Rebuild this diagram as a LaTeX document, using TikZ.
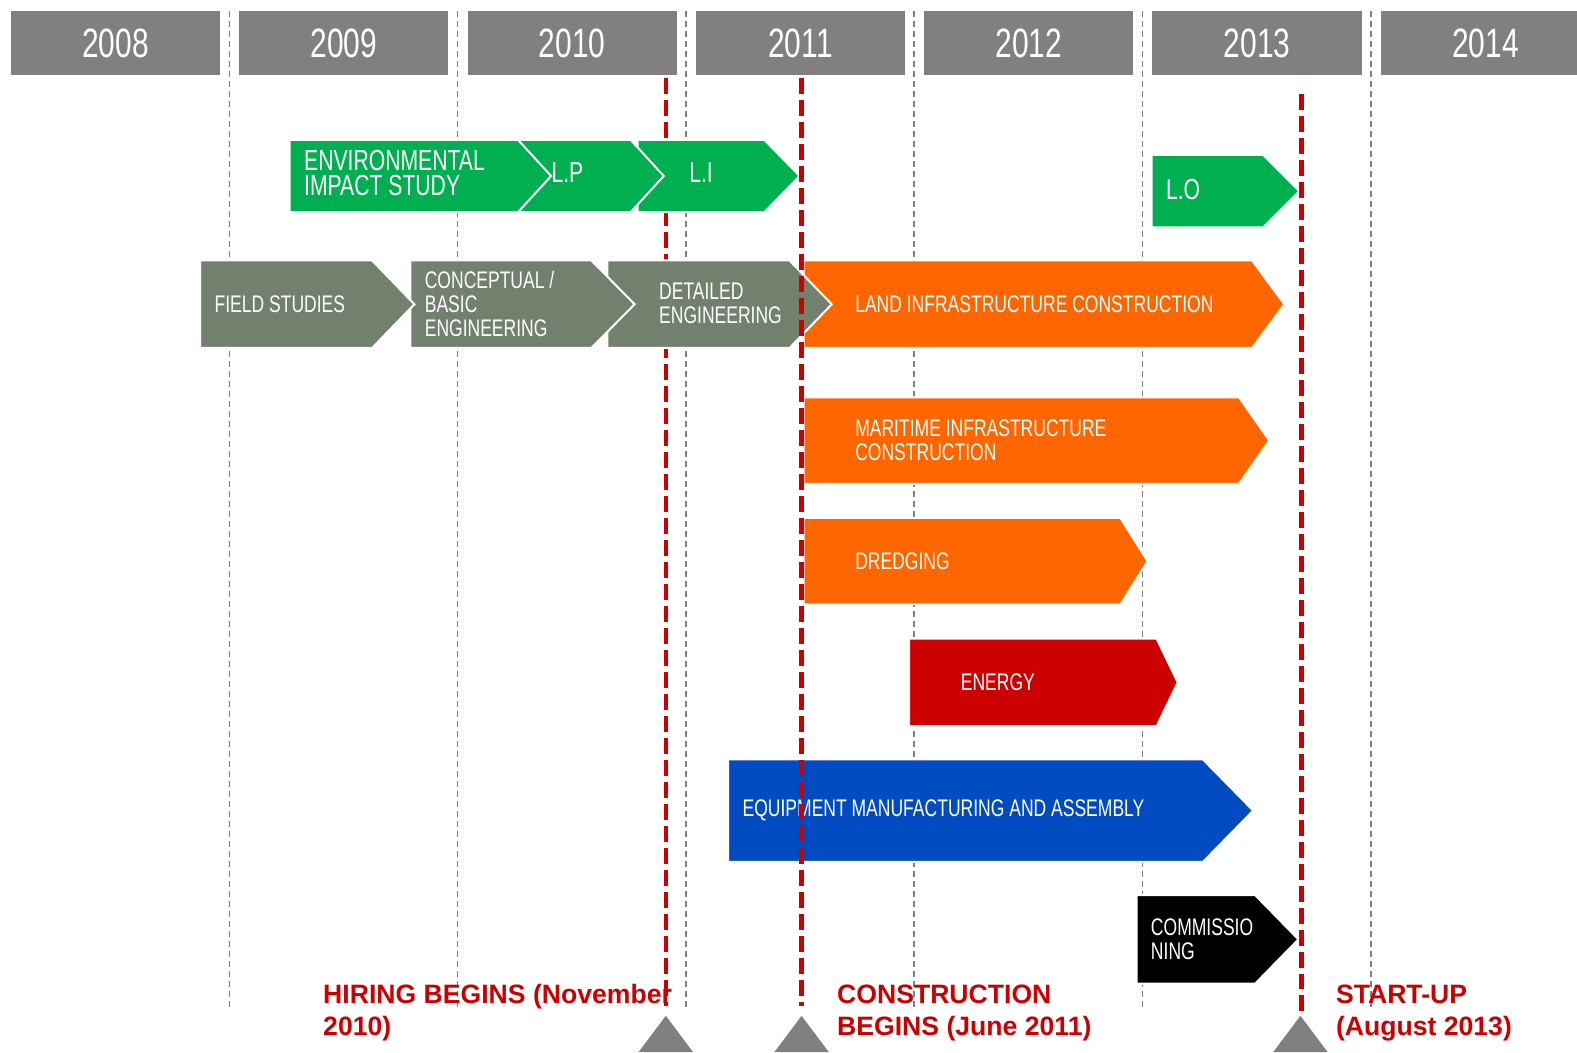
\documentclass[tikz,border=0pt]{standalone}
\usepackage{fontspec}
\setmainfont{Liberation Sans}
\newfontfamily\narrowfont[FakeStretch=0.73]{Liberation Sans}
\usetikzlibrary{positioning}
\definecolor{yeargray}{RGB}{128,128,128}
\definecolor{stagegreen}{RGB}{0,176,80}
\definecolor{stageolive}{RGB}{114,128,110}
\definecolor{stageorange}{RGB}{255,102,0}
\definecolor{stagered}{RGB}{204,0,0}
\definecolor{stageblue}{RGB}{0,75,193}
\tikzset{
    yearnode/.style = {fill=yeargray, text=white, inner sep=0pt, anchor=north west,
      minimum width=208*0.5029pt, minimum height=63*0.5029pt,
      font=\narrowfont\fontsize{20.5}{21}\selectfont},
    yeargrid/.style = {draw=yeargray, line width=0.8pt, dash pattern=on 3pt off 2pt},
    stage/.style = {draw=white, line width=1pt, line join=miter},
    stagetext/.style = {anchor=west, align=left, text=white, inner sep=0pt,
      font=\narrowfont\fontsize{12}{12}\selectfont},
    greentext/.style = {stagetext, font=\narrowfont\fontsize{14.5}{12.5}\selectfont},
    milestone/.style = {draw=stagered, line width=2.1pt, dash pattern=on 8pt off 3pt},
    marker/.style = {fill=yeargray},
    eventtext/.style = {anchor=west, align=left, text=stagered, inner sep=0pt,
      font=\bfseries\fontsize{13.3}{16}\selectfont}
}
% #1 colour, #2 left, #3 top, #4 tip, #5 bottom, #6 tip depth
\newcommand{\stagebox}[6]{%
  \path[stage, fill=#1] (#2,#3) -- ({#4-#6},#3) -- (#4,{(#3+#5)/2})
    -- ({#4-#6},#5) -- (#2,#5) -- cycle;}

\begin{document}
\begin{tikzpicture}[x=0.5029pt, y=-0.5029pt]
\useasboundingbox (0,0) rectangle (1568,1046);

% years
\foreach \yr [count=\i from 0] in {2008,2009,2010,2011,2012,2013,2014}
  \node[yearnode] (y\yr) at ({10.5+227*\i},11) {\yr};
\foreach \i in {0,...,5}
  \draw[yeargrid] ({228+227*\i},11) -- ({228+227*\i},1003);

% milestone lines
\coordinate (hiretop) at (662,78);
\coordinate (hirefoot) at (662,1000);
\coordinate (buildtop) at (797,78);
\coordinate (buildfoot) at (797,1000);
\coordinate (starttop) at (1294,93);
\coordinate (startfoot) at (1294,1005);
\draw[milestone] (hiretop) -- (hirefoot);

% licences
\stagebox{stagegreen}{634}{139}{795}{211}{35}
\stagebox{stagegreen}{515}{139}{660}{211}{33}
\stagebox{stagegreen}{288}{139}{548}{211}{33}
\stagebox{stagegreen}{1145}{154}{1292}{226}{36}
\node[greentext] (eis) at (302,172) {ENVIRONMENTAL\\IMPACT STUDY};
\node[greentext] (lp) at (548,172) {L.P};
\node[greentext] (li) at (685,172) {L.I};
\node[greentext] (lo) at (1159,188) {L.O};

% engineering and construction
\stagebox{stageorange}{799}{259}{1277}{346}{32}
\stagebox{stageolive}{604}{259}{827}{346}{42}
\stagebox{stageolive}{408}{259}{631}{346}{43}
\stagebox{stageolive}{199}{259}{412}{346}{42}
\node[stagetext] (field) at (213,302) {FIELD STUDIES};
\node[stagetext] (basic) at (422,302) {CONCEPTUAL /\\BASIC\\ENGINEERING};
\node[stagetext] (detailed) at (655,302) {DETAILED\\ENGINEERING};
\node[stagetext] (land) at (850,302) {LAND INFRASTRUCTURE CONSTRUCTION};

\stagebox{stageorange}{799}{395}{1262}{481}{30}
\node[stagetext] (maritime) at (850,438) {MARITIME INFRASTRUCTURE\\CONSTRUCTION};
\stagebox{stageorange}{799}{515}{1141}{601}{27}
\node[stagetext] (dredging) at (850,558) {DREDGING};
\stagebox{stagered}{904}{635}{1171}{722}{21}
\node[stagetext] (energy) at (955,678) {ENERGY};
\stagebox{stageblue}{724}{755}{1246}{857}{50}
\node[stagetext] (equipment) at (738,806) {EQUIPMENT MANUFACTURING AND ASSEMBLY};
\stagebox{black}{1130}{890}{1291}{978}{43}
\node[stagetext] (commission) at (1144,934) {COMMISSIO\\NING};

\draw[milestone] (buildtop) -- (buildfoot);
\draw[milestone] (starttop) -- (startfoot);

% markers
\fill[marker] (635,1046) -- (662,1010) -- (689,1046) -- cycle;
\fill[marker] (770,1046) -- (797,1010) -- (824,1046) -- cycle;
\fill[marker] (1266,1046) -- (1293,1010) -- (1320,1046) -- cycle;

\node[eventtext] (hiring) at (321,1007) {HIRING BEGINS (November\\2010)};
\node[eventtext] (construction) at (832,1007) {CONSTRUCTION\\BEGINS (June 2011)};
\node[eventtext] (startup) at (1328,1007) {START-UP\\(August 2013)};
\end{tikzpicture}
\end{document}
